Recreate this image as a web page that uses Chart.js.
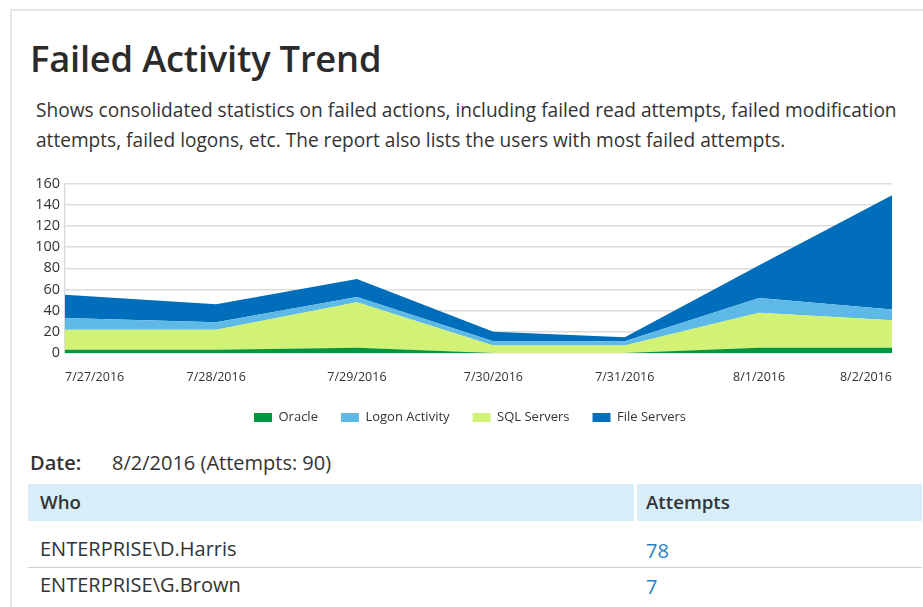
<!DOCTYPE html>
<html><head><meta charset="utf-8">
<script src="https://cdn.jsdelivr.net/npm/chart.js@4/dist/chart.umd.min.js"></script>
<style>
html,body{margin:0;padding:0;background:#fff;font-family:"Open Sans",sans-serif;color:#333;}
#card{position:absolute;left:10px;top:9px;width:940px;height:620px;border-left:2px solid #e6e6e6;border-top:2px solid #e6e6e6;}
h1{position:absolute;left:30px;top:33px;margin:0;font-size:36.3px;font-weight:600;color:#2b2b2b;letter-spacing:-0.2px;}
#desc{position:absolute;left:36px;top:95px;width:885px;font-size:19.1px;line-height:30px;color:#333;margin:0;}
#chartbox{position:absolute;left:31px;top:170px;width:878px;height:278px;}
.t{position:absolute;white-space:nowrap;line-height:30px;height:30px;}
.hb{position:absolute;top:484px;height:37px;background:#d7eef9;}
</style></head>
<body>
<div id="card"></div>
<h1>Failed Activity Trend</h1>
<p id="desc">Shows consolidated statistics on failed actions, including failed read attempts, failed modification attempts, failed logons, etc. The report also lists the users with most failed attempts.</p>
<div id="chartbox"><canvas id="c"></canvas></div>
<div class="t" style="left:30px;top:448px;font-size:20px;font-weight:600;">Date:</div>
<div class="t" style="left:112px;top:448px;font-size:20px;">8/2/2016 (Attempts: 90)</div>
<div class="hb" style="left:28px;width:606px;"></div>
<div class="hb" style="left:637px;width:285px;"></div>
<div class="t" style="left:40px;top:487px;font-size:18.7px;font-weight:600;">Who</div>
<div class="t" style="left:646px;top:487px;font-size:18.7px;font-weight:600;">Attempts</div>
<div class="t" style="left:40px;top:534px;font-size:20px;">ENTERPRISE\D.Harris</div>
<div class="t" style="left:646px;top:536px;font-size:20px;color:#1f7fc6;">78</div>
<div style="position:absolute;left:28px;top:567px;width:894px;height:1px;background:#d0d0d0;"></div>
<div class="t" style="left:40px;top:570px;font-size:20px;">ENTERPRISE\G.Brown</div>
<div class="t" style="left:646px;top:572px;font-size:20px;color:#1f7fc6;">7</div>
<script>
const categories = ["7/27/2016","7/28/2016","7/29/2016","7/30/2016","7/31/2016","8/1/2016","8/2/2016"];
// time of each sample in days since 7/27/2016 (samples are not exactly 24h apart)
const dayOffsets = [0, 1.097, 2.118, 3.108, 4.061, 5.036, 6];
const oracle        = [3, 3, 5, 0, 0, 5, 5];
const sqlServers    = [19, 19, 43, 7, 7, 33, 26];
const logonActivity = [11, 7, 5, 4, 4, 14, 10];
const fileServers   = [22, 17, 17, 9, 4, 31, 108];
const yTicks = [0,20,40,60,80,100,120,140,160];
const legendOrder = ['Oracle','Logon Activity','SQL Servers','File Servers'];

const pts = (arr) => arr.map((v,i)=>({x:dayOffsets[i], y:v}));

const shiftLegend = {
  id:'shiftLegend',
  afterLayout(chart){ const l = chart.legend; if(l){ l.top -= 14; l.bottom -= 14; } }
};

new Chart(document.getElementById('c'), {
  type: 'line',
  data: {
    datasets: [
      {label:'Oracle', data:pts(oracle), backgroundColor:'#00963f', borderColor:'#00963f', borderWidth:0, fill:'origin'},
      {label:'SQL Servers', data:pts(sqlServers), backgroundColor:'#d1f274', borderColor:'#d1f274', borderWidth:0, fill:'-1'},
      {label:'Logon Activity', data:pts(logonActivity), backgroundColor:'#5fb9e6', borderColor:'#5fb9e6', borderWidth:0, fill:'-1'},
      {label:'File Servers', data:pts(fileServers), backgroundColor:'#006eba', borderColor:'#006eba', borderWidth:0, fill:'-1'}
    ]
  },
  plugins:[shiftLegend],
  options: {
    responsive:true, maintainAspectRatio:false, animation:false,
    elements:{point:{radius:0,hoverRadius:0}, line:{tension:0,borderWidth:0}},
    layout:{padding:{left:0,right:0,top:4,bottom:0}},
    plugins:{
      tooltip:{enabled:false},
      legend:{position:'bottom',
        labels:{
          boxWidth:18, boxHeight:9, padding:23,
          font:{family:'Open Sans', size:13}, color:'#333',
          sort:(a,b)=>legendOrder.indexOf(a.text)-legendOrder.indexOf(b.text)
        }
      }
    },
    scales:{
      x:{
        type:'linear', min:0, max:6,
        afterBuildTicks:(s)=>{s.ticks=dayOffsets.map(v=>({value:v}));},
        grid:{display:false, drawTicks:false},
        border:{display:false},
        ticks:{align:'inner', maxRotation:0, autoSkip:false, padding:17,
          callback:(v,i)=>categories[i],
          font:{family:'Open Sans', size:12.5}, color:'#333'}
      },
      y:{
        stacked:true, min:0, max:160,
        afterBuildTicks:(s)=>{s.ticks=yTicks.map(v=>({value:v}));},
        afterFit:(s)=>{s.width=34;},
        grid:{color:'#dcdcdc', drawTicks:false, lineWidth:1.5},
        border:{display:true,color:'#dcdcdc',width:1.5},
        ticks:{autoSkip:false, padding:5, font:{family:'Open Sans', size:14.5}, color:'#333'}
      },
      y2:{
        position:'right', display:true,
        afterFit:(s)=>{s.width=14;},
        grid:{display:false, drawTicks:false},
        border:{display:false},
        ticks:{display:false}
      }
    }
  }
});
</script>
</body></html>
